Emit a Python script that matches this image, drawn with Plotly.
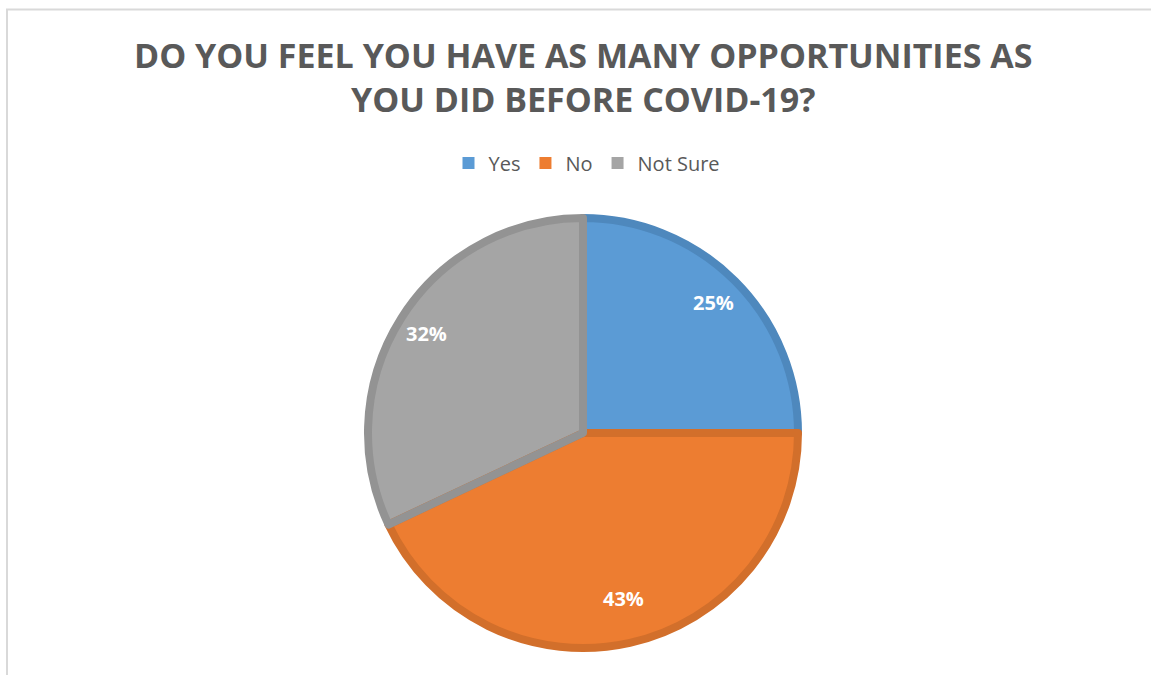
import math
import plotly.graph_objects as go

# Survey responses
labels = ["Yes", "No", "Not Sure"]
shares = [25, 43, 32]

fill_colors = ["#5B9BD5", "#ED7D31", "#A5A5A5"]
edge_colors = ["#4E88BD", "#D26F2B", "#939393"]

W, H = 1151, 675
cx, cy, r = 583, 433, 215  # pie centre and fill radius in pixels
label_r = 185              # distance of the percentage labels from the centre


def px_x(x):
    return x / W


def px_y(y):
    return 1 - y / H


domain = dict(x=[px_x(cx - r), px_x(cx + r)], y=[px_y(cy + r), px_y(cy - r)])

fig = go.Figure()

# Solid slices (also feed the legend)
fig.add_trace(go.Pie(
    labels=labels, values=shares, sort=False, direction="clockwise", rotation=0,
    domain=domain,
    marker=dict(colors=fill_colors, line=dict(width=0)),
    textinfo="none", hoverinfo="label+percent", showlegend=True,
))

# Darker slice outlines
fig.add_trace(go.Pie(
    labels=labels, values=shares, sort=False, direction="clockwise", rotation=0,
    domain=domain,
    marker=dict(colors=["rgba(0,0,0,0)"] * 3, line=dict(color=edge_colors, width=8)),
    textinfo="none", hoverinfo="skip", showlegend=False,
))

# Percentage labels placed near the rim, at each slice's mid-angle (clockwise from 12 o'clock)
total = sum(shares)
annotations = []
start = 0.0
for v in shares:
    mid = (start + v / 2) / total * 2 * math.pi
    start += v
    annotations.append(dict(
        x=px_x(cx + label_r * math.sin(mid)), y=px_y(cy - label_r * math.cos(mid)),
        xref="paper", yref="paper", showarrow=False,
        text=f"{round(100 * v / total)}%",
        font=dict(family="Open Sans", size=20, color="white", weight="bold"),
    ))

annotations.append(dict(
    x=px_x(583), y=px_y(77), xref="paper", yref="paper", showarrow=False,
    xanchor="center", yanchor="middle",
    text="DO YOU FEEL YOU HAVE AS MANY OPPORTUNITIES AS<br>YOU DID BEFORE COVID-19?",
    font=dict(family="Open Sans", size=34, color="#595959", weight="bold"),
))

fig.update_layout(
    width=W, height=H,
    margin=dict(l=0, r=0, t=0, b=0),
    paper_bgcolor="white", plot_bgcolor="white",
    annotations=annotations,
    legend=dict(
        orientation="h", x=px_x(587), xanchor="center", y=px_y(163), yanchor="middle",
        font=dict(family="Open Sans", size=20, color="#595959"),
        itemclick=False, itemdoubleclick=False, traceorder="normal",
        itemwidth=30,
    ),
    shapes=[dict(
        type="rect", xref="paper", yref="paper",
        x0=px_x(7), x1=1.05, y0=-0.05, y1=px_y(9.5),
        line=dict(color="#D9D9D9", width=2), fillcolor="rgba(0,0,0,0)", layer="below",
    )],
)

fig.write_html("out.html")
